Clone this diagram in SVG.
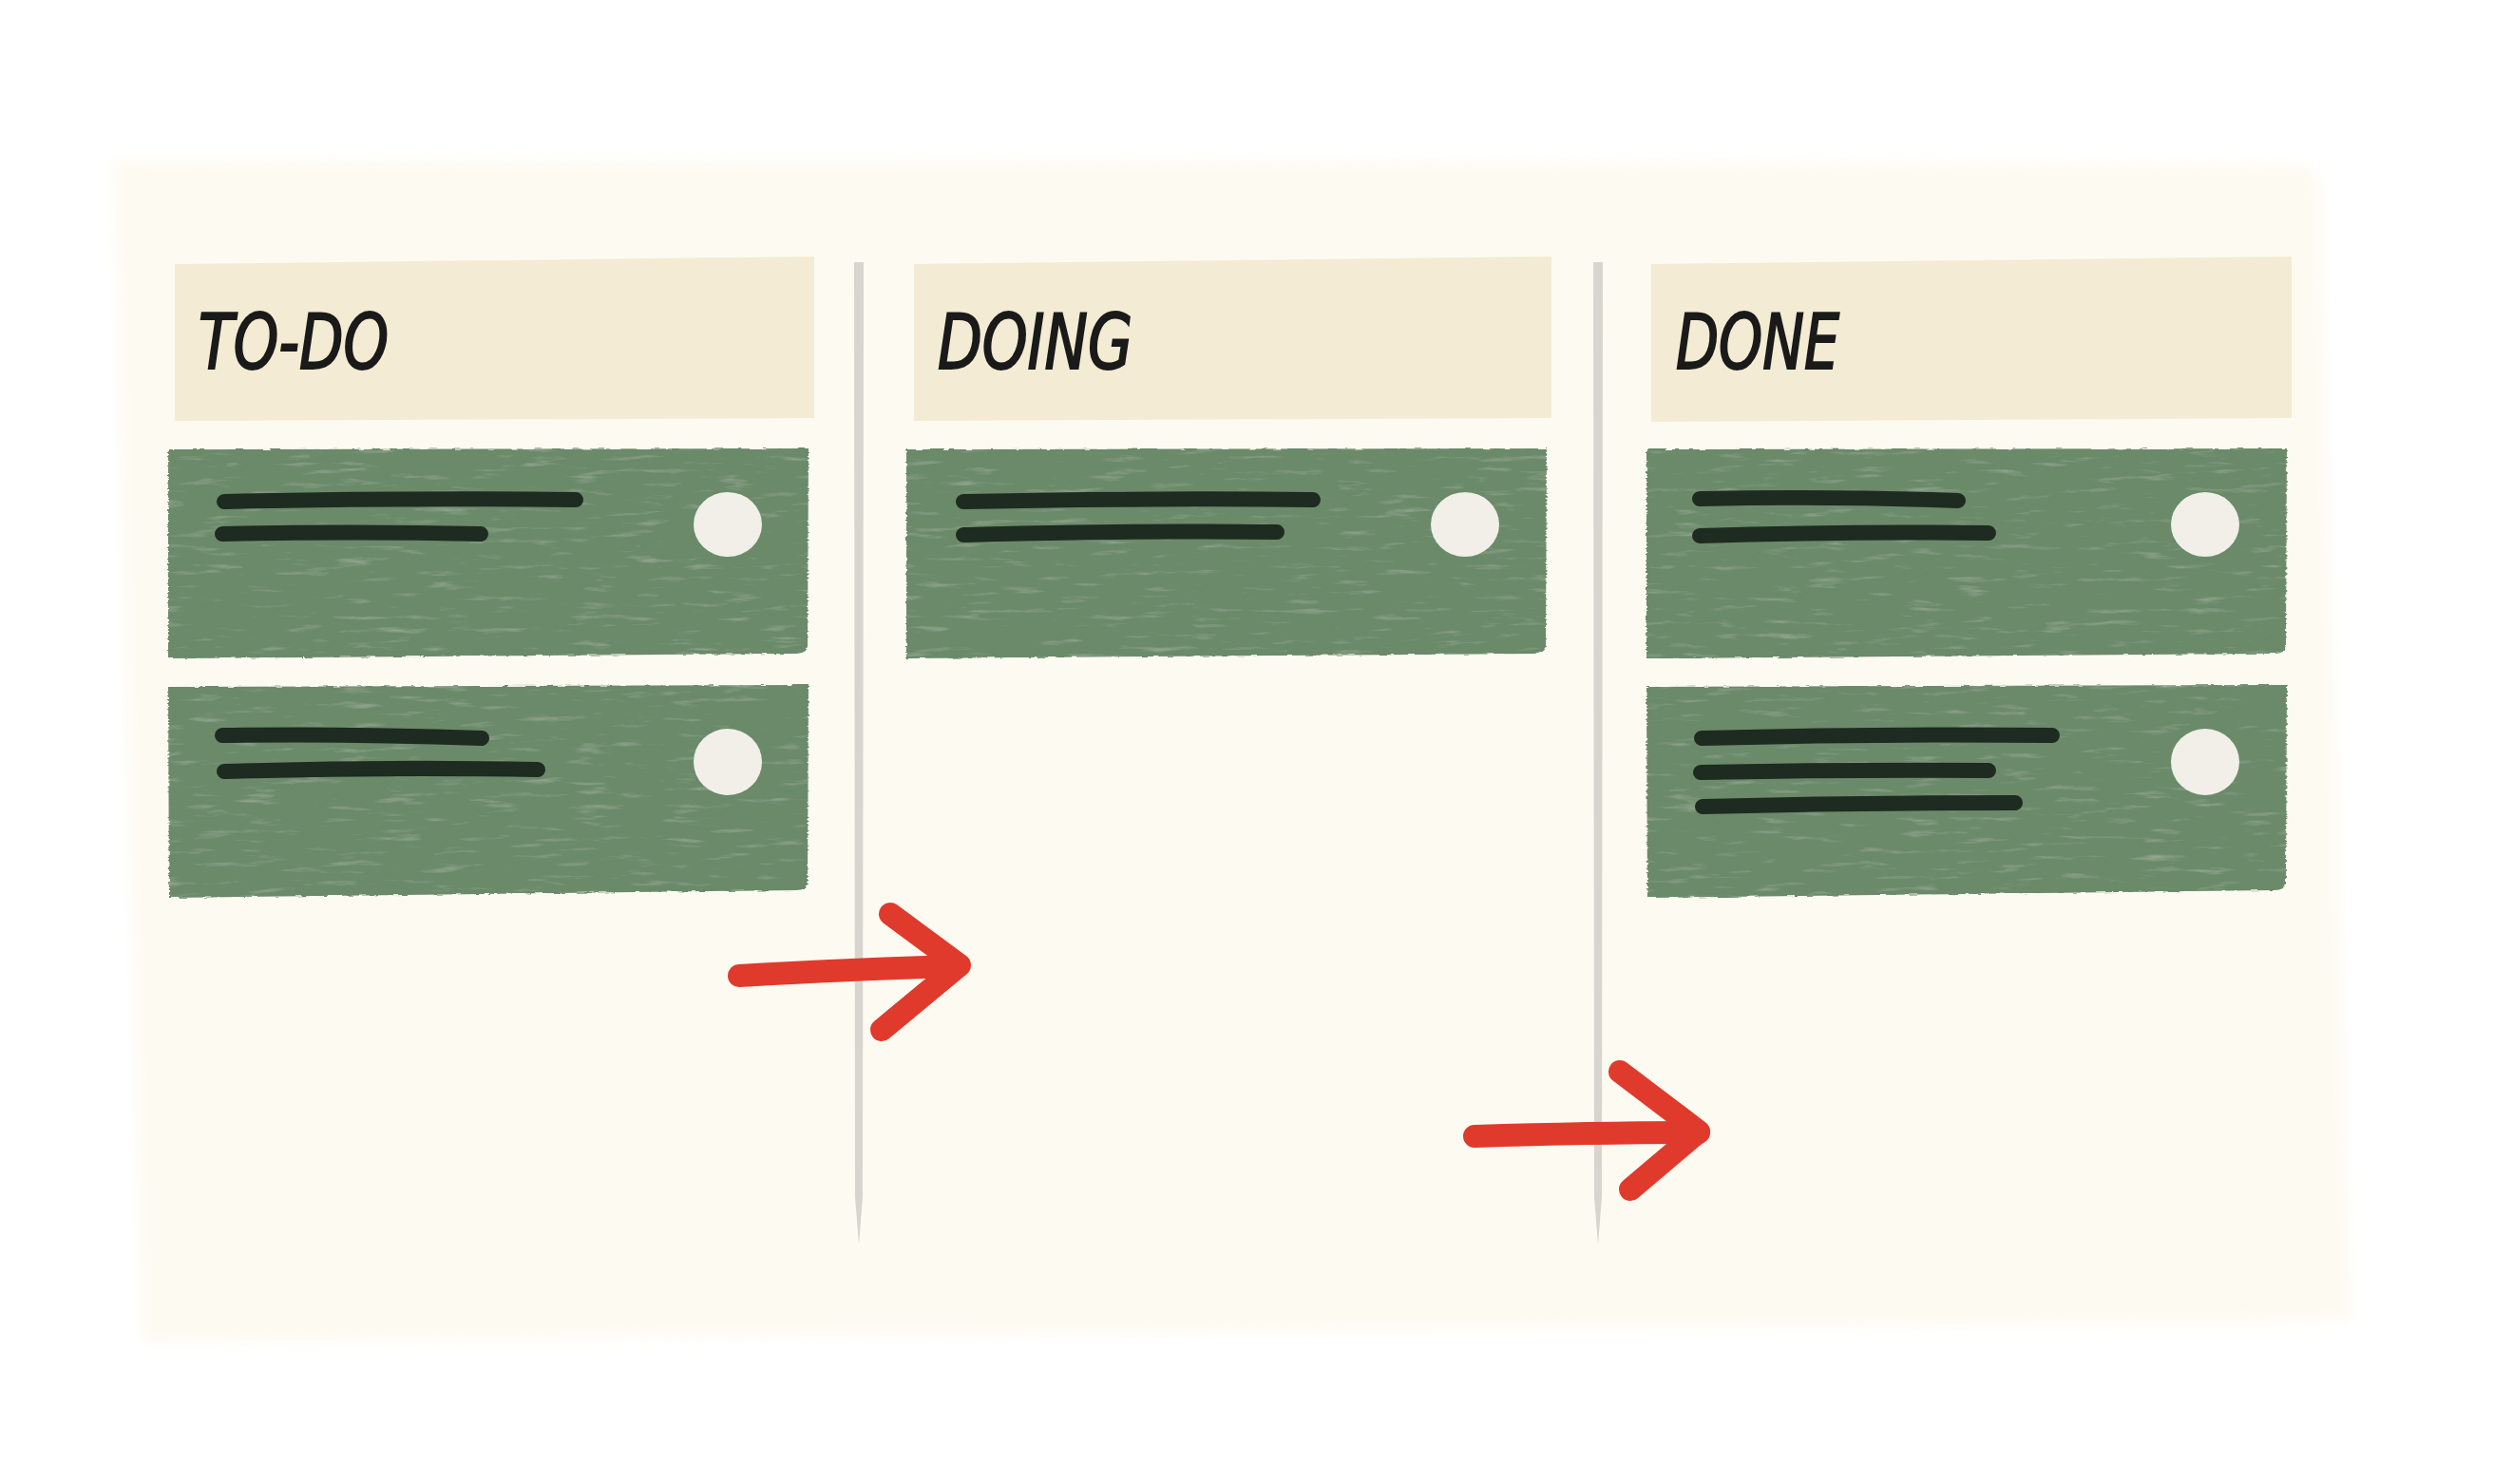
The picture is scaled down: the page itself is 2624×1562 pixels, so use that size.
<svg xmlns="http://www.w3.org/2000/svg" width="2624" height="1562" viewBox="0 0 2624 1562">
  <style>
    .header { fill: #f3ebd3; }
    .card { fill: #6b8a69; }
    .txt { fill: none; stroke: #1e2b20; stroke-width: 16; stroke-linecap: round; }
    .dot { fill: #f1efe8; }
    .title { font-family: "DejaVu Sans Condensed", "DejaVu Sans", sans-serif; font-style: italic; font-weight: normal; font-size: 80px; fill: #1a1a1a; stroke: #1a1a1a; stroke-width: 2; }
    .divider { fill: #d8d5ce; }
    .arrow { fill: none; stroke: #e03a2d; stroke-width: 24; stroke-linecap: round; stroke-linejoin: round; }
  </style>
  <defs>
    <filter id="soft" x="-5%" y="-5%" width="110%" height="110%">
      <feGaussianBlur stdDeviation="7"/>
    </filter>
    <filter id="brush" x="-3%" y="-6%" width="106%" height="112%">
      <feTurbulence type="fractalNoise" baseFrequency="0.08 0.5" numOctaves="2" seed="7" result="edge"/>
      <feDisplacementMap in="SourceGraphic" in2="edge" scale="4" xChannelSelector="R" yChannelSelector="G" result="shape"/>
      <feTurbulence type="fractalNoise" baseFrequency="0.02 0.15" numOctaves="4" seed="2" result="n"/>
      <feColorMatrix in="n" type="matrix" values="0 0 0 0 0.86  0 0 0 0 0.9  0 0 0 0 0.82  0.6 0 0 0 -0.36" result="streak"/>
      <feComposite in="streak" in2="shape" operator="in" result="s2"/>
      <feMerge><feMergeNode in="shape"/><feMergeNode in="s2"/></feMerge>
    </filter>
  </defs>

  <rect width="2624" height="1562" fill="#ffffff"/>
  <path id="board" d="M120,168 L2420,174 Q2440,176 2442,200 L2474,1390 L150,1412 Z" fill="#fdfaf1" filter="url(#soft)"/>

  <g id="dividers">
    <path class="divider" d="M899,276 L909,276 L908,1260 L904,1310 L900,1260 Z"/>
    <path class="divider" d="M1677,276 L1687,276 L1686,1260 L1682,1310 L1678,1260 Z"/>
  </g>

  <g id="col-todo">
    <g id="todo-header">
      <path class="header" d="M184,278 L857,270 L857,440 L184,443 Z"/>
      <text class="title" x="209" y="388" textLength="200" lengthAdjust="spacingAndGlyphs">TO-DO</text>
    </g>
    <g id="todo-card1">
      <path class="card" d="M177,473 L851,472 L850,680 Q849,688 838,688 L177,693 Z" filter="url(#brush)"/>
      <path class="txt" d="M236,528 Q420,524 606,526"/>
      <path class="txt" d="M234,562 Q370,559 506,562"/>
      <ellipse class="dot" cx="766" cy="552" rx="36" ry="34"/>
    </g>
    <g id="todo-card2">
      <path class="card" d="M177,723 L851,721 L850,930 Q849,937 838,937 L178,945 Z" filter="url(#brush)"/>
      <path class="txt" d="M234,774 Q370,772 507,777"/>
      <path class="txt" d="M236,812 Q400,807 566,810"/>
      <ellipse class="dot" cx="766" cy="802" rx="36" ry="35"/>
    </g>
  </g>

  <g id="col-doing">
    <g id="doing-header">
      <path class="header" d="M962,278 L1633,270 L1633,440 L962,443 Z"/>
      <text class="title" x="987" y="388" textLength="205" lengthAdjust="spacingAndGlyphs">DOING</text>
    </g>
    <g id="doing-card1">
      <path class="card" d="M954,473 L1628,472 L1627,680 Q1626,688 1615,688 L954,693 Z" filter="url(#brush)"/>
      <path class="txt" d="M1014,528 Q1200,524 1382,526"/>
      <path class="txt" d="M1014,563 Q1180,558 1344,560"/>
      <ellipse class="dot" cx="1542" cy="552" rx="36" ry="34"/>
    </g>
  </g>

  <g id="col-done">
    <g id="done-header">
      <path class="header" d="M1738,278 L2412,270 L2412,440 L1738,444 Z"/>
      <text class="title" x="1764" y="388" textLength="172" lengthAdjust="spacingAndGlyphs">DONE</text>
    </g>
    <g id="done-card1">
      <path class="card" d="M1733,473 L2407,472 L2406,680 Q2405,688 2394,688 L1733,693 Z" filter="url(#brush)"/>
      <path class="txt" d="M1789,525 Q1925,522 2061,527"/>
      <path class="txt" d="M1789,564 Q1940,559 2093,561"/>
      <ellipse class="dot" cx="2321" cy="552" rx="36" ry="34"/>
    </g>
    <g id="done-card2">
      <path class="card" d="M1733,723 L2407,721 L2406,930 Q2405,937 2394,937 L1734,945 Z" filter="url(#brush)"/>
      <path class="txt" d="M1791,777 Q1975,772 2160,774"/>
      <path class="txt" d="M1790,813 Q1940,810 2093,811"/>
      <path class="txt" d="M1792,849 Q1955,845 2121,845"/>
      <ellipse class="dot" cx="2321" cy="802" rx="36" ry="35"/>
    </g>
  </g>

  <g id="connectors">
    <g id="arrow-todo-doing">
      <path class="arrow" d="M778,1027 Q900,1020 1008,1017"/>
      <path class="arrow" d="M937,962 L1010,1016 L928,1084"/>
    </g>
    <g id="arrow-doing-done">
      <path class="arrow" d="M1552,1196 Q1680,1192 1788,1192"/>
      <path class="arrow" d="M1705,1128 L1788,1191 L1716,1252"/>
    </g>
  </g>
</svg>
